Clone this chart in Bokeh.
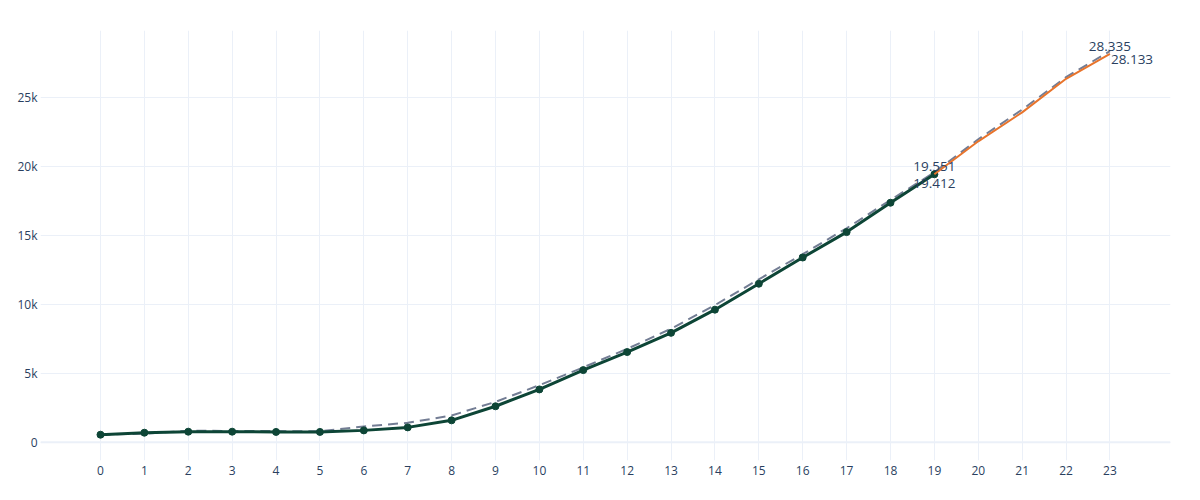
from bokeh.plotting import figure
from bokeh.models import FixedTicker, Range1d, Span
from bokeh.embed import file_html
from bokeh.resources import INLINE
from bokeh.core.properties import value

# ---- data ----
actual_x = list(range(0, 20))
actual_y = [540, 685, 758, 758, 740, 740, 853, 1070, 1580, 2600, 3820, 5220,
            6530, 7920, 9600, 11480, 13380, 15220, 17350, 19412]

model_x = list(range(0, 24))
model_y = [540, 610, 830, 810, 800, 790, 1140, 1400, 1930, 2920, 4130, 5420,
           6760, 8220, 9930, 11800, 13620, 15500, 17550, 19551, 21950, 24100,
           26450, 28335]

forecast_x = [19, 20, 21, 22, 23]
forecast_y = [19412, 21800, 23900, 26330, 28133]

x_ticks = list(range(0, 24))
y_ticks = [0, 5000, 10000, 15000, 20000, 25000]
y_tick_labels = ["0", "5k", "10k", "15k", "20k", "25k"]

label_x = [19, 19, 23, 23]
label_y = [19551, 19412, 28335, 28133]
label_text = ["19.551", "19.412", "28.335", "28.133"]

FONT = "Open Sans"
TXT = "#2a3f5f"
GRID = "#ebf0f8"

p = figure(width=1184, height=484, output_backend="svg", toolbar_location=None,
           x_range=Range1d(-1.367, 24.38), y_range=Range1d(-1330, 29830),
           min_border_left=40, min_border_right=14, min_border_top=30,
           min_border_bottom=24, background_fill_color="white",
           border_fill_color="white")
p.outline_line_color = None

for ax in (p.xaxis, p.yaxis):
    ax.axis_line_color = None
    ax.major_tick_line_color = None
    ax.minor_tick_line_color = None
    ax.major_tick_out = 0
    ax.major_tick_in = 0
    ax.major_label_text_color = TXT
    ax.major_label_text_font = FONT
    ax.major_label_text_font_size = "12px"

p.xaxis.ticker = FixedTicker(ticks=x_ticks)
p.xaxis.major_label_standoff = 5
p.yaxis.ticker = FixedTicker(ticks=y_ticks)
p.yaxis.major_label_overrides = {t: l for t, l in zip(y_ticks, y_tick_labels)}
p.yaxis.major_label_standoff = 3

p.xgrid.ticker = FixedTicker(ticks=x_ticks)
p.ygrid.ticker = FixedTicker(ticks=y_ticks)
p.xgrid.grid_line_color = GRID
p.ygrid.grid_line_color = GRID
p.add_layout(Span(location=0, dimension="width", line_color=GRID, line_width=2))

p.line(model_x, model_y, line_color="#737d94", line_width=2, line_dash="10 6")
p.line(actual_x, actual_y, line_color="#0d4536", line_width=3)
p.scatter(actual_x, actual_y, size=7, fill_color="#0d4536", line_color="#0d4536")
p.line(forecast_x, forecast_y, line_color="#e8742c", line_width=2)

aligns = ["center", "center", "center", "left"]
xoffs = [0, 0, 0, 1]
yoffs = [-6, 9, -5, 6]
for i in range(4):
    p.text(x=[label_x[i]], y=[label_y[i]], text=[label_text[i]],
           text_align=aligns[i], text_baseline="alphabetic",
           x_offset=xoffs[i], y_offset=yoffs[i],
           text_font=value(FONT), text_font_size="13.5px", text_color=TXT)

open("out.html", "w").write(file_html(p, INLINE))
